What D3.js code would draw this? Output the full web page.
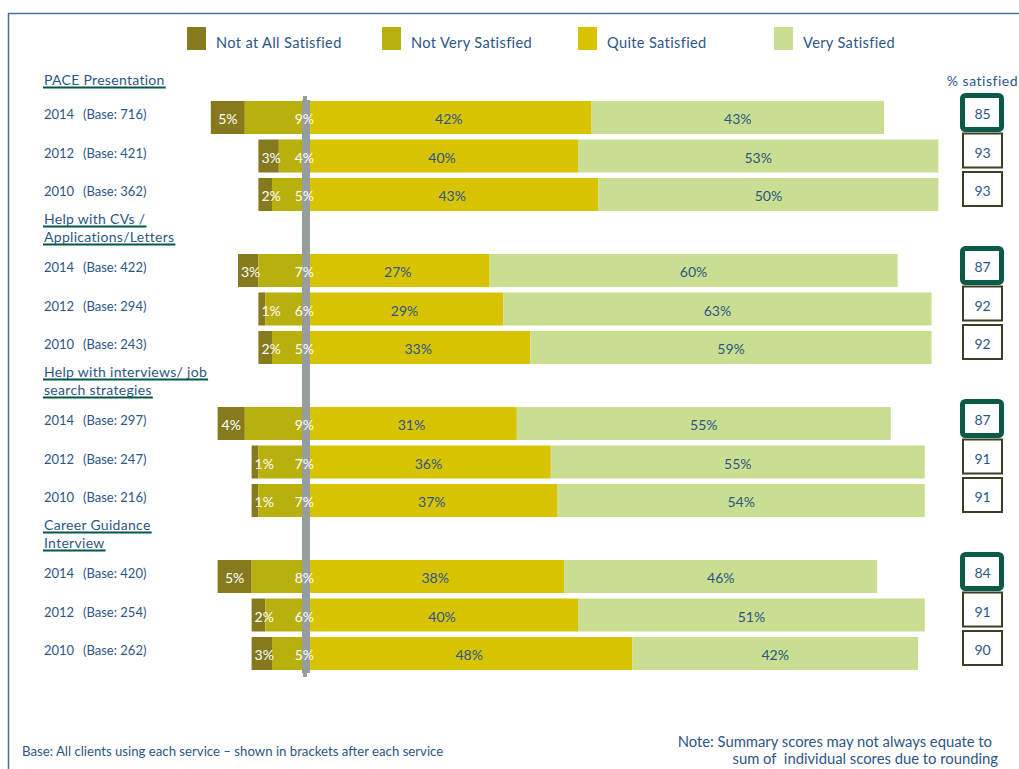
<!DOCTYPE html>
<html>
<head>
<meta charset="utf-8">
<script src="https://cdn.jsdelivr.net/npm/d3@7"></script>
<style>
  html, body { margin: 0; padding: 0; background: #fff; }
  svg { display: block; font-family: Lato, "Open Sans", sans-serif; }
</style>
</head>
<body>
<svg id="chart" width="1019" height="769"></svg>
<script>
// Client satisfaction by service and survey year (percentages)
const services = [
  ["PACE Presentation"],
  ["Help with CVs /", "Applications/Letters"],
  ["Help with interviews/ job", "search strategies"],
  ["Career Guidance", "Interview"]
];
const years = ["2014", "2012", "2010"];
const bases = [[716, 421, 362], [422, 294, 243], [297, 247, 216], [420, 254, 262]];

const notAtAll = [[5, 3, 2], [3, 1, 2], [4, 1, 1], [5, 2, 3]];
const notVery  = [[9, 4, 5], [7, 6, 5], [9, 7, 7], [8, 6, 5]];
const quite    = [[42, 40, 43], [27, 29, 33], [31, 36, 37], [38, 40, 48]];
const very     = [[43, 53, 50], [60, 63, 59], [55, 55, 54], [46, 51, 42]];
const satisfied = [[85, 93, 93], [87, 92, 92], [87, 91, 91], [84, 91, 90]];

const categories = ["Not at All Satisfied", "Not Very Satisfied", "Quite Satisfied", "Very Satisfied"];
const colors = ["#867a1c", "#b8b00c", "#d8c300", "#c9de90"];

const textBlue = "#2d5686";
const underlineGreen = "#00574a";

const svg = d3.select("#chart");

// frame
svg.append("path")
  .attr("d", "M8.5,769 V13.5 H1019")
  .attr("fill", "none")
  .attr("stroke", "#4a72a0")
  .attr("stroke-width", 1.5);

// scales
const x = d3.scaleLinear().domain([0, 100]).range([306, 986]);
const yGroup = d3.scalePoint().domain(d3.range(services.length)).range([101, 560]);
const yRow = d3.scalePoint().domain(years).range([0, 77]);
const barH = 33;

// rows: one per service/year
const rows = [];
services.forEach((s, g) => {
  years.forEach((yr, i) => {
    const top = yGroup(g) + yRow(yr);
    rows.push({
      g, i, yr, top,
      base: bases[g][i],
      naa: notAtAll[g][i], nv: notVery[g][i], q: quite[g][i], v: very[g][i],
      sat: satisfied[g][i]
    });
  });
});

// legend
const legendX = [187, 382, 578, 774];
const legend = svg.append("g");
categories.forEach((c, k) => {
  legend.append("rect")
    .attr("x", legendX[k]).attr("y", 27).attr("width", 19).attr("height", 23)
    .attr("fill", colors[k]);
  legend.append("text")
    .attr("x", legendX[k] + 29).attr("y", 48)
    .attr("fill", textBlue).attr("font-size", 14.6).attr("letter-spacing", 0.35)
    .text(c);
});

// service headings (underlined)
services.forEach((lines, g) => {
  const top = yGroup(g);
  const n = lines.length;
  lines.forEach((ln, j) => {
    const baseline = n === 1 ? top - 16 : top - 30 + j * 18;
    const t = svg.append("text")
      .attr("x", 44).attr("y", baseline)
      .attr("fill", textBlue).attr("font-size", 14).attr("letter-spacing", 0.3)
      .text(ln);
    const w = t.node().getComputedTextLength();
    svg.append("line")
      .attr("x1", 43).attr("x2", 44 + w + 1)
      .attr("y1", baseline + 2.5).attr("y2", baseline + 2.5)
      .attr("stroke", underlineGreen).attr("stroke-width", 2);
  });
});

// row labels
const rowLabels = svg.append("g");
rows.forEach(r => {
  const t = rowLabels.append("text")
    .attr("y", r.top + 18)
    .attr("fill", textBlue).attr("font-size", 13);
  t.append("tspan").attr("x", 44).text(r.yr);
  t.append("tspan").attr("x", 83).text(`(Base: ${r.base})`);
});

// bars
const bars = svg.append("g");
rows.forEach(r => {
  const segs = [
    { x0: -(r.naa + r.nv), x1: -r.nv, c: 0 },
    { x0: -r.nv, x1: 0, c: 1 },
    { x0: 0, x1: r.q, c: 2 },
    { x0: r.q, x1: r.q + r.v, c: 3 }
  ];
  segs.forEach(s => {
    bars.append("rect")
      .attr("x", x(s.x0)).attr("y", r.top)
      .attr("width", x(s.x1) - x(s.x0)).attr("height", barH)
      .attr("fill", colors[s.c]);
  });
});

// centre divider
const lineTop = yGroup(0) - 5, lineBot = yGroup(services.length - 1) + yRow("2010") + barH + 7;
svg.append("rect")
  .attr("x", x(0) - 3).attr("y", lineTop).attr("width", 4).attr("height", lineBot - lineTop)
  .attr("fill", "#959e9a");
svg.append("rect")
  .attr("x", x(0) - 4).attr("y", lineTop + 4).attr("width", 8).attr("height", lineBot - lineTop - 8)
  .attr("fill", "#959e9a");

// value labels
const labels = svg.append("g").attr("font-size", 14);
rows.forEach(r => {
  const ty = r.top + 23;
  // not at all satisfied: centred, but kept inside the left edge
  const a0 = x(-(r.naa + r.nv)), a1 = x(-r.nv);
  const t1 = labels.append("text").attr("y", ty).attr("fill", "#fff").text(r.naa + "%");
  const w1 = t1.node().getComputedTextLength();
  t1.attr("x", Math.max(a0 + 3, (a0 + a1) / 2 - w1 / 2));
  // not very satisfied: against the divider
  labels.append("text").attr("x", x(0) + 8).attr("y", ty)
    .attr("text-anchor", "end").attr("fill", "#fff").text(r.nv + "%");
  // quite / very satisfied: centred
  labels.append("text").attr("x", (x(0) + x(r.q)) / 2).attr("y", ty)
    .attr("text-anchor", "middle").attr("fill", textBlue).text(r.q + "%");
  labels.append("text").attr("x", (x(r.q) + x(r.q + r.v)) / 2).attr("y", ty)
    .attr("text-anchor", "middle").attr("fill", textBlue).text(r.v + "%");
});

// % satisfied boxes
svg.append("text")
  .attr("x", 1018).attr("y", 86).attr("text-anchor", "end")
  .attr("fill", textBlue).attr("font-size", 14).attr("letter-spacing", 0.5)
  .text("% satisfied");

const boxes = svg.append("g");
rows.forEach(r => {
  if (r.yr === "2014") {
    boxes.append("rect")
      .attr("x", 962.5).attr("y", r.top - 5.5).attr("width", 39).attr("height", 34)
      .attr("rx", 3)
      .attr("fill", "#fff").attr("stroke", "#0b5a48").attr("stroke-width", 5);
  } else {
    boxes.append("rect")
      .attr("x", 963).attr("y", r.top - 6).attr("width", 39).attr("height", 34)
      .attr("fill", "#fff").attr("stroke", "#3b3f26").attr("stroke-width", 2);
  }
  boxes.append("text")
    .attr("x", 982.5).attr("y", r.top + 18).attr("text-anchor", "middle")
    .attr("fill", textBlue).attr("font-size", 14)
    .text(r.sat);
});

// notes
svg.append("text")
  .attr("x", 22).attr("y", 756)
  .attr("fill", textBlue).attr("font-size", 13.2)
  .text("Base: All clients using each service \u2013 shown in brackets after each service");

const note = svg.append("text")
  .attr("text-anchor", "end").attr("fill", textBlue).attr("font-size", 14.8);
note.append("tspan").attr("x", 992).attr("y", 747)
  .text("Note: Summary scores may not always equate to");
note.append("tspan").attr("x", 998).attr("y", 764)
  .text("sum of\u00a0 individual scores due to rounding");
</script>
</body>
</html>
